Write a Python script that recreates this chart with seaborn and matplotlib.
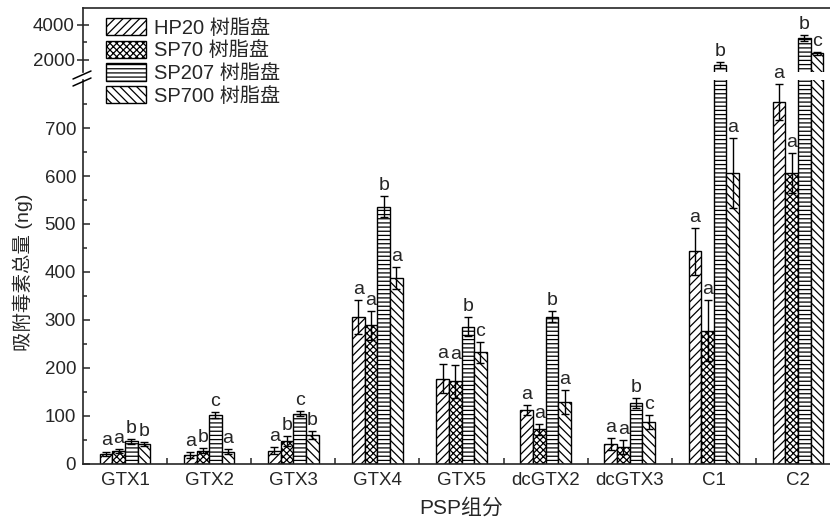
import matplotlib
matplotlib.use("Agg")
import matplotlib.pyplot as plt
from matplotlib.lines import Line2D
from matplotlib.patches import Patch
from matplotlib.ticker import FixedLocator
import seaborn as sns
import pandas as pd

# ---- data ----
groups = ["GTX1", "GTX2", "GTX3", "GTX4", "GTX5", "dcGTX2", "dcGTX3", "C1", "C2"]
resins = ["HP20 树脂盘", "SP70 树脂盘", "SP207 树脂盘", "SP700 树脂盘"]

hp20 = [21, 19, 28, 306, 178, 112, 42, 443, 754]
sp70 = [27, 28, 48, 289, 172, 72, 35, 278, 606]
sp207 = [47, 102, 105, 536, 286, 307, 127, 1690, 3210]
sp700 = [41, 26, 60, 388, 233, 130, 87, 607, 2350]

hp20_err = [5, 6, 8, 36, 30, 10, 12, 49, 38]
sp70_err = [4, 6, 10, 30, 35, 12, 15, 64, 42]
sp207_err = [5, 6, 6, 22, 20, 11, 10, 150, 170]
sp700_err = [4, 5, 8, 23, 22, 25, 15, 73, 90]

hp20_sig = ["a", "a", "a", "a", "a", "a", "a", "a", "a"]
sp70_sig = ["a", "b", "b", "a", "a", "a", "a", "a", "a"]
sp207_sig = ["b", "c", "c", "b", "b", "b", "b", "b", "b"]
sp700_sig = ["b", "a", "b", "a", "c", "a", "c", "a", "c"]

values = [hp20, sp70, sp207, sp700]
errors = [hp20_err, sp70_err, sp207_err, sp700_err]
letters = [hp20_sig, sp70_sig, sp207_sig, sp700_sig]
hatches = ["////", "xxxxx", "----", "\\\\\\\\"]

rows = []
for r, vals in zip(resins, values):
    for g, v in zip(groups, vals):
        rows.append({"组分": g, "树脂": r, "量": v})
df = pd.DataFrame(rows)

# ---- style ----
sns.set_style("ticks")
plt.rcParams["font.family"] = ["Liberation Sans", "Noto Sans CJK SC", "DejaVu Sans"]
plt.rcParams["hatch.linewidth"] = 0.9
plt.rcParams["axes.linewidth"] = 1.2

W, H = 830, 519
fig = plt.figure(figsize=(W / 100, H / 100), dpi=100)
ax_low = fig.add_axes([83 / W, 55 / H, 757 / W, 384 / H])
ax_up = fig.add_axes([83 / W, 447 / H, 757 / W, 64 / H])
for ax in (ax_low, ax_up):
    ax.patch.set_visible(False)

LOW_MAX = 800
UP_LIM = (1290, 4950)

for ax in (ax_low, ax_up):
    sns.barplot(data=df, x="组分", y="量", hue="树脂", order=groups,
                hue_order=resins, palette=["white"] * 4, saturation=1,
                edgecolor="black", linewidth=1.0, width=0.6,
                errorbar=None, legend=False, ax=ax)
    for cont, hatch in zip(ax.containers, hatches):
        for bar in cont:
            bar.set_hatch(hatch)
    ax.set_xlim(-0.5, 8.5)
    ax.set_xlabel("")
    ax.set_ylabel("")

ax_low.set_ylim(0, LOW_MAX)
ax_up.set_ylim(*UP_LIM)

# error bars and significance letters
for ci, (vals, errs, sig) in enumerate(zip(values, errors, letters)):
    bars_low = ax_low.containers[ci]
    for bi, (v, e, s) in enumerate(zip(vals, errs, sig)):
        xc = bars_low[bi].get_x() + bars_low[bi].get_width() / 2
        top = v + e
        for ax in (ax_low, ax_up):
            ax.errorbar(xc, v, yerr=e, fmt="none", ecolor="black",
                        elinewidth=1.0, capsize=3.2, capthick=1.0, zorder=4)
        target = ax_low if top < LOW_MAX else ax_up
        target.annotate(s, xy=(xc, top), xytext=(0, 1.5),
                        textcoords="offset points", ha="center", va="bottom",
                        fontsize=14, annotation_clip=False)

# ---- spines ----
ax_low.spines["top"].set_visible(False)
ax_low.spines["right"].set_visible(False)
ax_up.spines["bottom"].set_visible(False)
ax_up.spines["right"].set_visible(False)

# lower axis ticks
ax_low.yaxis.set_major_locator(FixedLocator(range(0, 701, 100)))
ax_low.yaxis.set_minor_locator(FixedLocator(range(50, 751, 100)))
ax_low.tick_params(axis="y", which="major", direction="in", length=5,
                   width=1.1, labelsize=13.5, pad=5)
ax_low.tick_params(axis="y", which="minor", direction="in", length=3, width=1.1)
ax_low.set_xticks(range(len(groups)))
ax_low.set_xticklabels(groups)
ax_low.xaxis.set_minor_locator(FixedLocator([i + 0.5 for i in range(len(groups))]))
ax_low.tick_params(axis="x", which="major", length=0, labelsize=13.5, pad=6)
ax_low.tick_params(axis="x", which="minor", direction="in", length=4, width=1.1)

# upper axis ticks
ax_up.yaxis.set_major_locator(FixedLocator([2000, 4000]))
ax_up.yaxis.set_minor_locator(FixedLocator([3000]))
ax_up.tick_params(axis="y", which="major", direction="inout", length=8,
                  width=1.1, labelsize=13.5, pad=2)
ax_up.tick_params(axis="y", which="minor", direction="in", length=3, width=1.1)
ax_up.set_xticks([])
ax_up.tick_params(axis="x", which="both", length=0, labelbottom=False)

ax_low.set_xlabel("PSP组分", fontsize=15, labelpad=6)
ax_low.set_ylabel("吸附毒素总量 (ng)", fontsize=14, labelpad=8)

# break marks on the y axis
def fig_pt(x, y):
    return x / W, 1 - y / H

for (x0, y0, x1, y1) in [(73, 79, 91, 71), (73, 86, 91, 78)]:
    p0 = fig_pt(x0, y0)
    p1 = fig_pt(x1, y1)
    fig.add_artist(Line2D([p0[0], p1[0]], [p0[1], p1[1]], color="black",
                          linewidth=1.1, transform=fig.transFigure))

# legend
handles = [Patch(facecolor="white", edgecolor="black", hatch=h, linewidth=1.0)
           for h in hatches]
fig.legend(handles, resins, loc="upper left", bbox_to_anchor=(92 / W, 1 - 4 / H),
           frameon=False, fontsize=14.5, handlelength=2.0, handleheight=0.95,
           handletextpad=0.4, labelspacing=0.15, borderpad=0.2)

fig.savefig("out.png", dpi=100)
